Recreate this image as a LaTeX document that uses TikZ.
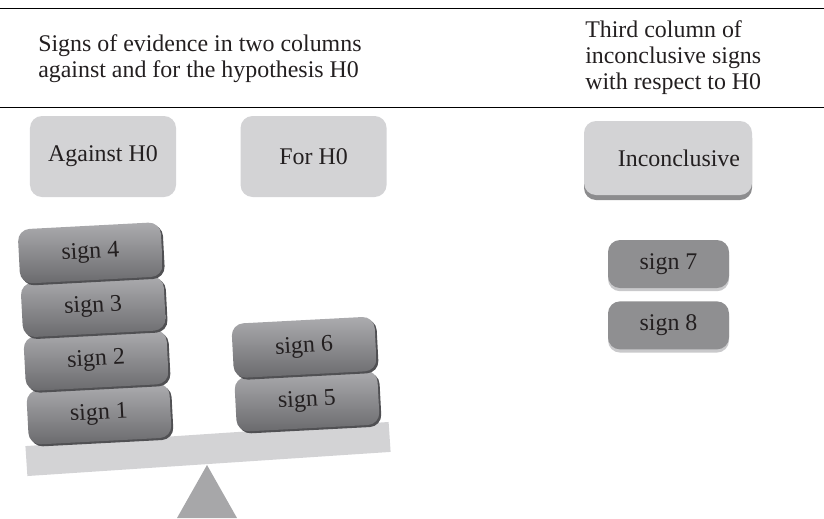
\documentclass[tikz,border=0pt]{standalone}
\usepackage{fontspec}
\setmainfont{Liberation Serif}
\usetikzlibrary{positioning,shadows}

\definecolor{inkgray}{HTML}{231F20}
\definecolor{boxgray}{HTML}{D3D3D5}
\definecolor{incshade}{HTML}{8C8C8E}
\definecolor{darkbox}{HTML}{8F8F91}
\definecolor{lightshade}{HTML}{C9C9CB}
\definecolor{signtop}{HTML}{ACACAF}
\definecolor{signbot}{HTML}{6A6A6D}
\definecolor{signshade}{HTML}{505053}
\definecolor{pivotgray}{HTML}{A7A7A9}

\begin{document}
\begin{tikzpicture}[x=0.25mm, y=-0.25mm, node distance=0mm,
  txt/.style={font=\fontsize{17}{18.5}\selectfont, text=inkgray},
  head/.style={txt, align=left, anchor=west, inner sep=0pt},
  colbox/.style={txt, fill=boxgray, rounded corners=3mm,
    minimum width=36.5mm, minimum height=20.25mm},
  signbox/.style={txt, rounded corners=3mm, rotate=3,
    minimum width=35.75mm, minimum height=13.6mm,
    top color=signtop, bottom color=signbot,
    drop shadow={shadow xshift=0.5mm, shadow yshift=-0.5mm,
      fill=signshade, opacity=1}},
  smallsign/.style={txt, fill=darkbox, rounded corners=3mm,
    minimum width=30.25mm, minimum height=12mm,
    drop shadow={shadow xshift=0mm, shadow yshift=-0.8mm,
      fill=lightshade, opacity=1}}]

  \useasboundingbox (0,0) rectangle (824,518);

  % header
  \coordinate (ruleA) at (0,8);
  \coordinate (ruleB) at (824,8);
  \coordinate (ruleC) at (0,107);
  \coordinate (ruleD) at (824,107);
  \draw[line width=0.6pt] (ruleA) -- (ruleB);
  \draw[line width=0.6pt] (ruleC) -- (ruleD);
  \node[head] (twocol) at (38,59)
    {Signs of evidence in two columns\\against and for the hypothesis H0};
  \node[head] (thirdcol) at (585,58)
    {Third column of\\inconclusive signs\\with respect to H0};

  % column titles
  \node[colbox] (against) at (103,156.5) {Against H0};
  \node[colbox, right=16mm of against] (for) {For H0};
  \node[colbox, minimum width=42mm, minimum height=18.5mm,
    text width=36mm, align=right, inner xsep=3mm,
    drop shadow={shadow xshift=0mm, shadow yshift=-1.25mm,
      fill=incshade, opacity=1}] (inc) at (668,158) {Inconclusive};

  % balance
  \fill[pivotgray] (207,465) -- (237,518) -- (177,518) -- cycle;
  \node[fill=boxgray, rotate=3.8, minimum width=91mm, minimum height=7.5mm,
    inner sep=0pt] (beam) at (208,449) {};

  % signs
  \node[signbox] (s1) at (99,414) {sign 1};
  \node[signbox, above=-0.3mm of s1] (s2) {sign 2};
  \node[signbox, above=-0.3mm of s2] (s3) {sign 3};
  \node[signbox, above=-0.3mm of s3] (s4) {sign 4};
  \node[signbox] (s5) at (307,401) {sign 5};
  \node[signbox, above=-0.3mm of s5] (s6) {sign 6};
  \node[smallsign] (s7) at (668.5,264) {sign 7};
  \node[smallsign, below=3.2mm of s7] (s8) {sign 8};

\end{tikzpicture}
\end{document}
